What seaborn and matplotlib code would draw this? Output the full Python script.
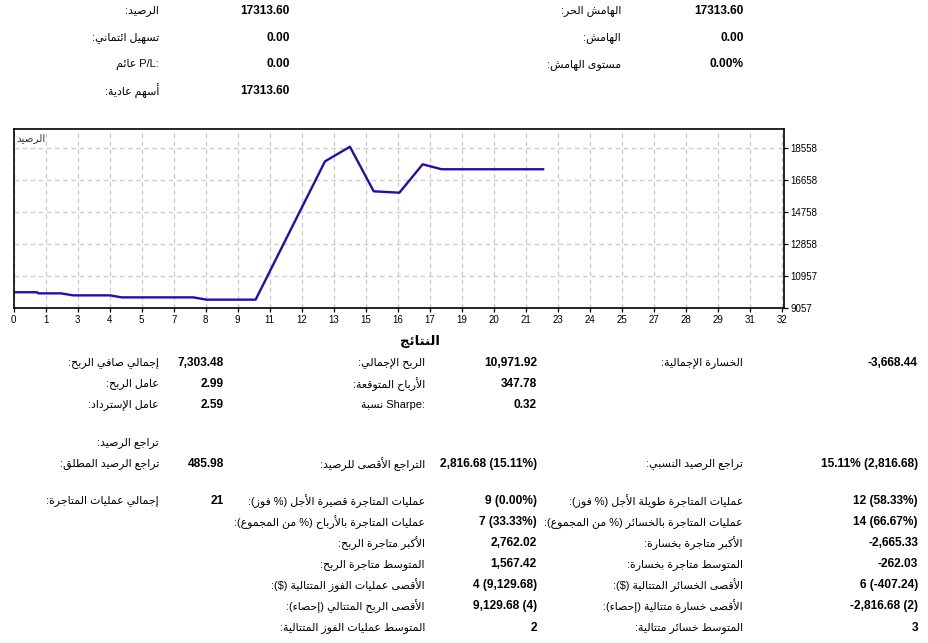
import matplotlib
matplotlib.use('Agg')
import matplotlib.pyplot as plt
import seaborn as sns
import numpy as np
import pandas as pd

# ---------------- data ----------------
trade_x = [0, 0.96, 1.03, 1.97, 2.48, 4.01, 4.5, 7.48, 8.04, 10.08, 12.97, 14.01, 15.0, 16.07, 17.04, 17.83, 22.07]
balance = [10010, 10010, 9944, 9944, 9825, 9825, 9706, 9706, 9570, 9570, 17782, 18650, 16004, 15921, 17608, 17314, 17314]
ytick_vals = [9057, 10957, 12858, 14758, 16658, 18558]
xtick_labels = ['0', '1', '3', '4', '5', '7', '8', '9', '11', '12', '13', '15', '16', '17',
                '19', '20', '21', '23', '24', '25', '27', '28', '29', '31', '32']
chart_label = "الرصيد"

top_labels_1 = ["الرصيد:", "تسهيل ائتماني:", "عائم P/L:", "أسهم عادية:"]
top_values_1 = ["17313.60", "0.00", "0.00", "17313.60"]
top_labels_2 = ["الهامش الحر:", "الهامش:", "مستوى الهامش:"]
top_values_2 = ["17313.60", "0.00", "0.00%"]

results_title = "النتائج"

a_labels_1 = ["إجمالي صافي الربح:", "عامل الربح:", "عامل الإسترداد:"]
a_values_1 = ["7,303.48", "2.99", "2.59"]
a_labels_2 = ["الربح الإجمالي:", "الأرباح المتوقعة:", "نسبة Sharpe:"]
a_values_2 = ["10,971.92", "347.78", "0.32"]
a_labels_3 = ["الخسارة الإجمالية:"]
a_values_3 = ["-3,668.44"]

dd_header = "تراجع الرصيد:"
b_labels = ["تراجع الرصيد المطلق:", "التراجع الأقصى للرصيد:", "تراجع الرصيد النسبي:"]
b_values = ["485.98", "2,816.68 (15.11%)", "15.11% (2,816.68)"]

c_labels_1 = ["إجمالي عمليات المتاجرة:"]
c_values_1 = ["21"]
c_labels_2 = ["عمليات المتاجرة قصيرة الأجل (% فوز):", "عمليات المتاجرة بالأرباح (% من المجموع):",
              "الأكبر متاجرة الربح:", "المتوسط متاجرة الربح:", "الأقصى عمليات الفوز المتتالية ($):",
              "الأقصى الربح المتتالي (إحصاء):", "المتوسط عمليات الفوز المتتالية:"]
c_values_2 = ["9 (0.00%)", "7 (33.33%)", "2,762.02", "1,567.42", "4 (9,129.68)", "9,129.68 (4)", "2"]
c_labels_3 = ["عمليات المتاجرة طويلة الأجل (% فوز):", "عمليات المتاجرة بالخسائر (% من المجموع):",
              "الأكبر متاجرة بخسارة:", "المتوسط متاجرة بخسارة:", "الأقصى الخسائر المتتالية ($):",
              "الأقصى خسارة متتالية (إحصاء):", "المتوسط خسائر متتالية:"]
c_values_3 = ["12 (58.33%)", "14 (66.67%)", "-2,665.33", "-262.03", "6 (-407.24)", "-2,816.68 (2)", "3"]

# ---------------- Arabic shaping + simple bidi ----------------
_FORMS = {}
_counts = ([(0x621, 1), (0x622, 2), (0x623, 2), (0x624, 2), (0x625, 2), (0x626, 4), (0x627, 2), (0x628, 4), (0x629, 2)]
           + [(c, 4) for c in range(0x62A, 0x62F)] + [(c, 2) for c in range(0x62F, 0x633)]
           + [(c, 4) for c in range(0x633, 0x63B)] + [(c, 4) for c in range(0x641, 0x648)]
           + [(0x648, 2), (0x649, 2), (0x64A, 4)])
_b = 0xFE80
for _c, _n in _counts:
    _FORMS[chr(_c)] = (_n, _b)
    _b += _n
_LAMALEF = {'\u0622': 0xFEF5, '\u0623': 0xFEF7, '\u0625': 0xFEF9, '\u0627': 0xFEFB}


def _dual(c):
    return c in _FORMS and _FORMS[c][0] == 4


def shape(s):
    out = []
    n = len(s)
    i = 0
    while i < n:
        c = s[i]
        if c not in _FORMS:
            out.append(c)
            i += 1
            continue
        jp = i > 0 and _dual(s[i - 1])
        if c == '\u0644' and i + 1 < n and s[i + 1] in _LAMALEF:
            out.append(chr(_LAMALEF[s[i + 1]] + (1 if jp else 0)))
            i += 2
            continue
        jn = _dual(c) and i + 1 < n and s[i + 1] in _FORMS
        cnt, b = _FORMS[c]
        if cnt == 1:
            f = b
        elif cnt == 2:
            f = b + 1 if jp else b
        else:
            f = b + 3 if (jp and jn) else b + 1 if jp else b + 2 if jn else b
        out.append(chr(f))
        i += 1
    return ''.join(out)


def _is_rtl(c):
    return ('\u0600' <= c <= '\u06FF') or ('\uFE70' <= c <= '\uFEFF')


def vis(s):
    rtl = not any(ch.isascii() and ch.isalpha() for ch in s)
    s = shape(s)
    t = ['R' if _is_rtl(c) else ('L' if (c.isascii() and c.isalnum()) else 'N') for c in s]
    base = 'R' if rtl else 'L'
    n = len(s)
    res = t[:]
    i = 0
    while i < n:
        if t[i] == 'N':
            j = i
            while j < n and t[j] == 'N':
                j += 1
            before = t[i - 1] if i > 0 else base
            after = t[j] if j < n else base
            d = before if before == after else base
            for k in range(i, j):
                res[k] = d
            i = j
        else:
            i += 1
    if rtl:
        lev = [1 if r == 'R' else 2 for r in res]
    else:
        lev = [1 if r == 'R' else 0 for r in res]
    mirror = {'(': ')', ')': '('}
    chars = [mirror.get(c, c) if lev[k] % 2 else c for k, c in enumerate(s)]
    idx = list(range(n))
    for L in range(max(lev), 0, -1):
        i = 0
        while i < n:
            if lev[idx[i]] >= L:
                j = i
                while j < n and lev[idx[j]] >= L:
                    j += 1
                idx[i:j] = idx[i:j][::-1]
                i = j
            else:
                i += 1
    return ''.join(chars[k] for k in idx)


# ---------------- figure ----------------
W, H = 929, 643
sns.set_theme(style='white')
plt.rcParams['font.family'] = ['Liberation Sans', 'DejaVu Sans']

fig = plt.figure(figsize=(W / 100, H / 100), dpi=100)
fig.patch.set_facecolor('white')

LBL = 7.9
VAL = 8.6


def txt(x, y, s, bold=False, size=None, ha='right'):
    fig.text(x / W, 1 - y / H, s, ha=ha, va='center',
             fontsize=size if size else (VAL if bold else LBL),
             fontweight='bold' if bold else 'normal', color='black')


# top summary
for k, (l, v) in enumerate(zip(top_labels_1, top_values_1)):
    y = 11 + k * 26.7
    txt(159, y, vis(l))
    txt(290, y, v, bold=True)
for k, (l, v) in enumerate(zip(top_labels_2, top_values_2)):
    y = 11 + k * 26.7
    txt(621, y, vis(l))
    txt(744, y, v, bold=True)

# chart
x0, x1, yt, yb = 13.7, 784, 129.3, 308.3
ax = fig.add_axes([x0 / W, 1 - yb / H, (x1 - x0) / W, (yb - yt) / H])
df = pd.DataFrame({'deal': trade_x, 'balance': balance})
sns.lineplot(data=df, x='deal', y='balance', ax=ax, color='#2a0ab0', linewidth=1.7, sort=False)
ax.set_xlim(0, (x1 - x0) / 24)
ax.set_ylim(ytick_vals[0], ytick_vals[0] + (yb - yt) / 32 * (ytick_vals[-1] - ytick_vals[0]) / 5)
ax.set_xticks(np.arange(len(xtick_labels)) * 4 / 3)
ax.set_xticklabels(xtick_labels)
ax.set_yticks(ytick_vals)
ax.set_yticklabels([str(v) for v in ytick_vals])
ax.yaxis.tick_right()
ax.set_xlabel('')
ax.set_ylabel('')
ax.grid(True, color='#c8c8c8', linestyle=(0, (3.5, 3)), linewidth=0.9)
for sp in ax.spines.values():
    sp.set_color('black')
    sp.set_linewidth(1.2)
ax.tick_params(axis='both', length=3, width=0.9, color='black', labelsize=7, pad=1.5,
               labelcolor='black', bottom=True, right=True, left=False)
ax.text(0.004, 0.95, vis(chart_label), transform=ax.transAxes, ha='left', va='center',
        fontsize=7.5, color='#3a3020')

# results
txt(420, 342, vis(results_title), bold=True, size=9.5, ha='center')

cols = [(159, 224), (425, 537), (743, 918)]
for (lab, val), (lx, vx) in zip([(a_labels_1, a_values_1), (a_labels_2, a_values_2), (a_labels_3, a_values_3)], cols):
    for k, (l, v) in enumerate(zip(lab, val)):
        y = 363 + k * 21
        txt(lx, y, vis(l))
        txt(vx, y, v, bold=True)

txt(159, 443, vis(dd_header))
for (l, v), (lx, vx) in zip(zip(b_labels, b_values), cols):
    txt(lx, 464, vis(l))
    txt(vx, 464, v, bold=True)

for (lab, val), (lx, vx) in zip([(c_labels_1, c_values_1), (c_labels_2, c_values_2), (c_labels_3, c_values_3)], cols):
    for k, (l, v) in enumerate(zip(lab, val)):
        y = 501 + k * 21.1
        txt(lx, y, vis(l))
        txt(vx, y, v, bold=True)

fig.savefig('out.png', dpi=100, facecolor='white')
